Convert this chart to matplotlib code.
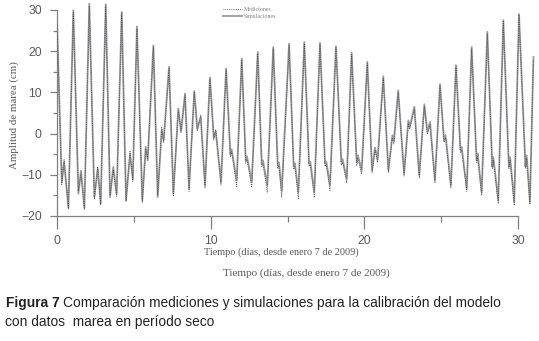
import matplotlib
matplotlib.use("Agg")
import matplotlib.pyplot as plt
from matplotlib.ticker import MultipleLocator

# tide extremes (days since 7 Jan 2009, cm)
dias = [0.0, 0.31, 0.46, 0.74, 1.06, 1.39, 1.56, 1.78, 2.10, 2.43, 2.65, 2.84,
        3.17, 3.45, 3.66, 3.88, 4.21, 4.49, 4.75, 4.93, 5.20, 5.55, 5.77, 5.90,
        6.27, 6.55, 6.81, 6.94, 7.29, 7.57, 7.89, 8.07, 8.33, 8.59, 8.93, 9.13,
        9.35, 9.63, 9.95, 10.20, 10.33, 10.67, 11.00, 11.28, 11.36, 11.69, 12.02,
        12.28, 12.36, 12.67, 13.06, 13.32, 13.40, 13.68, 14.07, 14.36, 14.44,
        14.62, 15.10, 15.40, 15.48, 15.70, 16.09, 16.40, 16.48, 16.74, 17.11,
        17.44, 17.52, 17.76, 18.15, 18.50, 18.58, 18.85, 19.17, 19.50, 19.58,
        19.82, 20.19, 20.50, 20.69, 20.86, 21.23, 21.56, 21.82, 21.92, 22.20,
        22.58, 22.86, 22.95, 23.25, 23.57, 23.90, 24.10, 24.27, 24.59, 24.92,
        25.18, 25.28, 25.63, 25.96, 26.25, 26.33, 26.66, 26.98, 27.30, 27.37,
        27.63, 28.00, 28.32, 28.39, 28.71, 29.04, 29.40, 29.48, 29.75, 30.06,
        30.48, 30.56, 30.77, 31.00]

simulaciones = [27, -11.7, -6.9, -18, 29.9, -14.6, -9, -18, 31.5, -15.4, -8.5, -17,
                31.4, -15.4, -8.1, -14.6, 29.5, -16.2, -5, -11, 26, -16.2, -3.2, -6.5,
                21.4, -15.4, 0.8, -1.6, 16.2, -14.6, 6.1, 0.4, 9.7, -13.3, 10.3, 1.2,
                4, -12.5, 13.6, -1.0, 0.5, -11.7, 15.8, -5, -3.8, -11.3, 18.2,
                -6.5, -5.5, -11.7, 19.8, -7.3, -6.5, -12.5, 21, -7.7, -7,
                -13.8, 21.8, -8, -7.2, -14.2, 22.2, -7.3, -6.8, -14.2, 22,
                -7.3, -6.8, -12.5, 21.2, -6.9, -6.2, -10.9, 19.6, -7, -5.3,
                -8.9, 17.4, -8.9, -3.4, -6.3, 13.9, -8.9, -0.4, -1.8, 10.5,
                -9.7, 3.2, 1.6, 6.5, -10.1, 7.1, 0.4, 2.8, -11.3, 12,
                -1.6, -0.4, -12.5, 16.6, -4, -3.3, -13.3, 21, -6.5, -4.9,
                -14.2, 24.7, -8, -5.7, -16.2, 27.5, -8, -5.7, -16.6, 29,
                -8, -5.3, -16.6, 18.6]

mediciones = [26.5, -12.5, -6.2, -18.3, 29.5, -14.0, -9.8, -18.5, 31.0, -15.8, -8.0, -17.3,
              31.0, -15.0, -8.8, -15.2, 29.2, -16.5, -4.2, -11.6, 25.5, -16.8, -3.8, -6.0,
              21.0, -15.0, 1.5, -2.2, 15.8, -15.2, 5.5, 0.8, 9.2, -14.0, 10.0, 0.6,
              4.5, -13.2, 13.2, -1.6, 1.0, -12.5, 15.4, -5.6, -4.4, -12.8, 17.8,
              -7.2, -6.3, -13.0, 19.4, -8.0, -7.3, -14.3, 20.6, -8.5, -7.8,
              -15.5, 21.4, -8.7, -8.0, -15.8, 21.8, -8.0, -7.6, -15.5, 21.6,
              -8.0, -7.5, -13.8, 20.8, -7.6, -7.0, -12.0, 19.2, -7.8, -6.0,
              -9.8, 17.0, -9.6, -4.0, -7.0, 13.5, -9.5, -1.0, -2.5, 10.0,
              -10.3, 2.6, 1.0, 6.0, -10.8, 6.6, -0.2, 2.2, -12.0, 11.6,
              -2.2, -1.0, -13.2, 16.2, -4.6, -4.0, -14.0, 20.6, -7.0, -5.6,
              -15.0, 24.3, -8.6, -6.4, -17.0, 27.2, -8.6, -6.4, -17.4, 28.7,
              -8.5, -6.0, -17.2, 18.0]

xticks = [0, 10, 20, 30]
yticks = [-20, -10, 0, 10, 20, 30]

serif = "Liberation Serif"
sans = "Liberation Sans"

fig = plt.figure(figsize=(5.39, 3.41), dpi=100)
ax = fig.add_axes([0.1058, 0.3666, 0.8896, 0.632])

ax.plot(dias, simulaciones, color="#9c9c9c", lw=1.3, label="Simulaciones", zorder=2)
ax.plot(dias, mediciones, color="#4a4a55", lw=0.6, ls=(0, (1, 1.2)), label="Mediciones", zorder=3)

ax.set_xlim(0, 31.2)
ax.set_ylim(-20, 32.3)
ax.set_xticks(xticks)
ax.set_yticks(yticks)
ax.xaxis.set_minor_locator(MultipleLocator(5))
ax.yaxis.set_minor_locator(MultipleLocator(5))

for side in ["top", "right"]:
    ax.spines[side].set_visible(False)
ax.spines["bottom"].set_bounds(0, 30)
ax.spines["left"].set_bounds(-20, 30)
for side in ["bottom", "left"]:
    ax.spines[side].set_color("#808080")
    ax.spines[side].set_linewidth(0.9)

ax.tick_params(axis="x", which="major", length=9, width=0.9, color="#808080", pad=5,
               labelsize=8.8, labelcolor="#5a5a5a")
ax.tick_params(axis="x", which="minor", length=4.5, width=0.9, color="#808080")
ax.tick_params(axis="y", which="major", length=5, width=0.9, color="#808080", pad=6,
               labelsize=8.8, labelcolor="#5a5a5a")
ax.tick_params(axis="y", which="minor", length=3, width=0.9, color="#808080")
for lab in ax.get_xticklabels() + ax.get_yticklabels():
    lab.set_family(sans)

ax.set_ylabel("Amplitud de marea (cm)", family=serif, fontsize=7.8, color="#5a5a5a")
ax.yaxis.set_label_coords(-0.08, 0.47)

# legend (tiny, at top of chart)
handles, labels = ax.get_legend_handles_labels()
leg = ax.legend(handles[::-1], labels[::-1], loc="upper left", bbox_to_anchor=(220 / 539, 1 - 4 / 341),
                bbox_transform=fig.transFigure, frameon=False,
                handlelength=3.2, handletextpad=0.4, labelspacing=0.25, borderpad=0,
                prop={"family": serif, "size": 4.2})
for txt in leg.get_texts():
    txt.set_color("#808080")

# x axis title (appears twice in the original)
fig.text(281.5 / 539, 1 - 252 / 341, "Tiempo (días, desde enero 7 de 2009)", family=serif,
         fontsize=7.4, color="#5a5a5a", ha="center", va="center")
fig.text(306 / 539, 1 - 273 / 341, "Tiempo (días, desde enero 7 de 2009)", family=serif,
         fontsize=8.0, color="#5a5a5a", ha="center", va="center")

# caption
cap_size = 9.9
bold = fig.text(6 / 539, 1 - 303 / 341, "Figura 7", family=sans, fontsize=cap_size,
                fontweight="bold", color="#222222", ha="left", va="center")
fig.canvas.draw()
bb = bold.get_window_extent(fig.canvas.get_renderer())
x_next = (bb.x1 + 3) / fig.bbox.width
fig.text(x_next, 1 - 303 / 341,
         "Comparación mediciones y simulaciones para la calibración del modelo",
         family=sans, fontsize=cap_size, color="#222222", ha="left", va="center")
fig.text(5 / 539, 1 - 322 / 341, "con datos  marea en período seco", family=sans,
         fontsize=cap_size, color="#222222", ha="left", va="center")

fig.savefig("out.png", dpi=100)
